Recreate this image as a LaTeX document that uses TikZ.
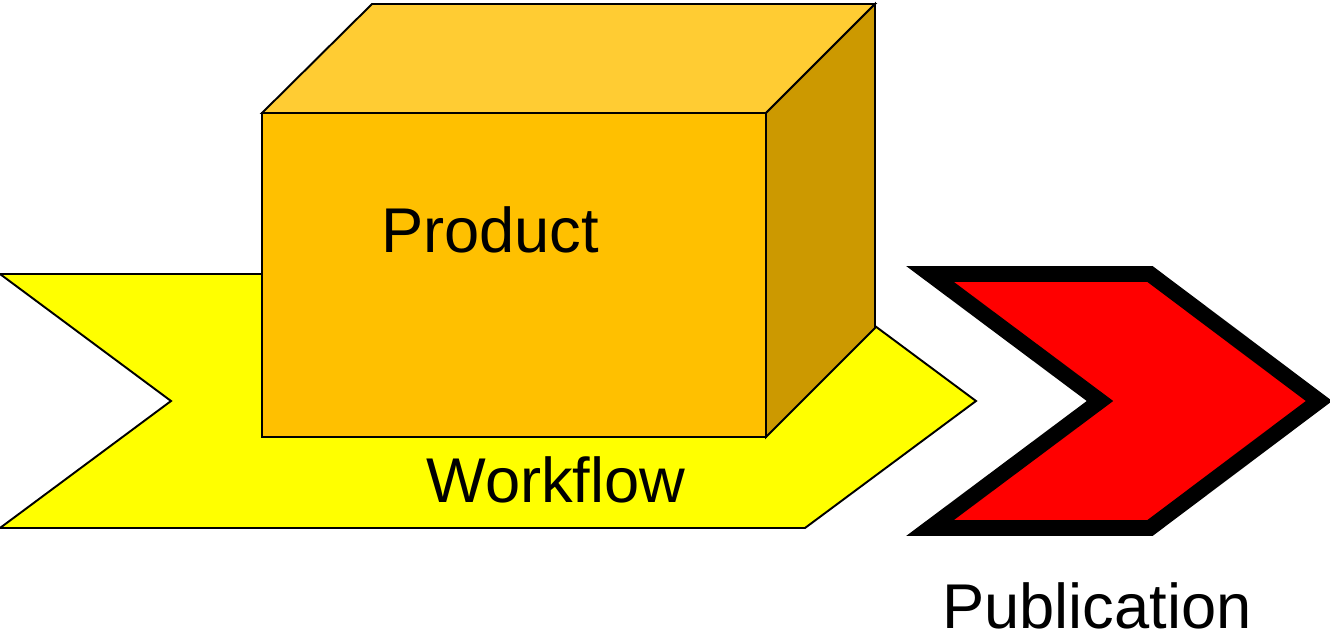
\documentclass[tikz,border=0pt]{standalone}
\usepackage{fontspec}
\setmainfont{Liberation Sans}
\definecolor{boxfront}{RGB}{255,192,0}
\definecolor{boxtop}{RGB}{255,204,51}
\definecolor{boxside}{RGB}{204,153,0}
\definecolor{bandyellow}{RGB}{255,255,0}
\begin{document}
\begin{tikzpicture}[x=0.02cm,y=-0.02cm,line join=miter]
        \tikzstyle{every node}=[inner sep=0pt, font=\fontsize{36}{43}\selectfont, anchor=base]
        \tikzstyle{face}=[draw=black, line width=1.1pt]
        \useasboundingbox (0,0) rectangle (1330,635);
        % workflow band
        \draw[face, fill=bandyellow] (0,274) -- (805,274) -- (976,401) -- (805,528) -- (0,528) -- (171,401) -- cycle;
        % product box
        \draw[face, fill=boxtop] (262,113) -- (372,4) -- (875,4) -- (766,113) -- cycle;
        \draw[face, fill=boxside] (766,113) -- (875,4) -- (875,328) -- (766,437) -- cycle;
        \draw[face, fill=boxfront] (262,113) rectangle (766,437);
        % publication
        \draw[line width=9pt, fill=red] (930,274) -- (1150,274) -- (1319,401) -- (1150,528) -- (930,528) -- (1100,401) -- cycle;
        \node (product) at (490,253) {Product};
        \node (workflow) at (556,502) {Workflow};
        \node (publication) at (1097,628) {Publication};
    \end{tikzpicture}
\end{document}
